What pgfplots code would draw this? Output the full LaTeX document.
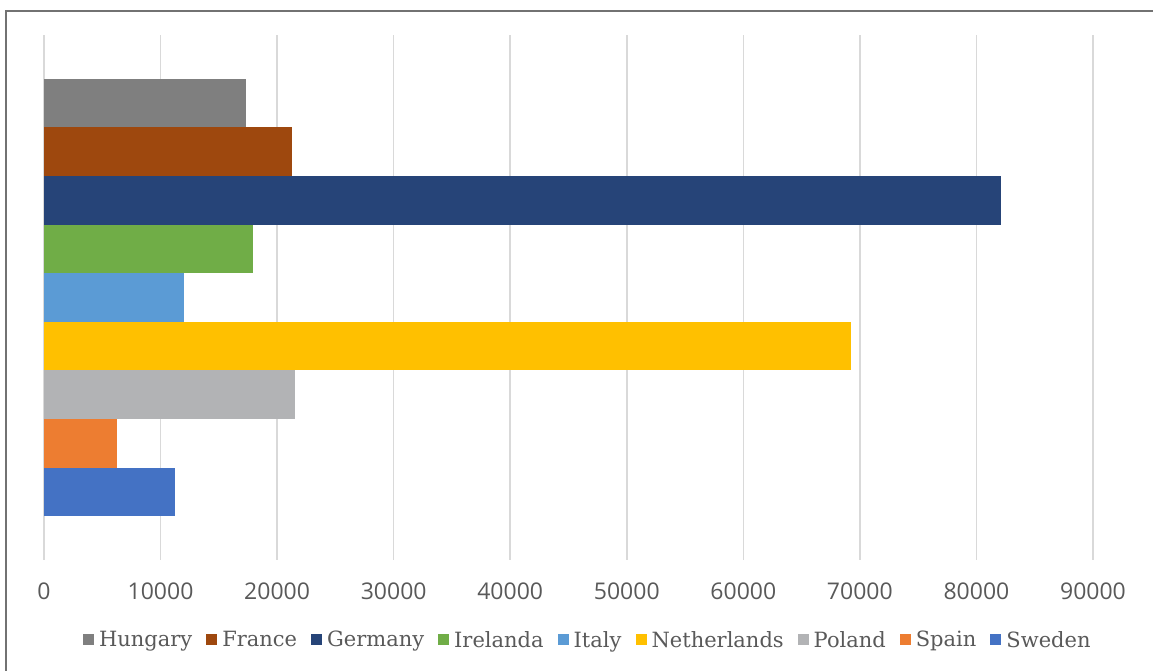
\documentclass[border=0pt]{standalone}
\usepackage{pgfplots}
\pgfplotsset{compat=1.18}
\usepackage{fontspec}
\setmainfont{DejaVu Serif}
\newfontfamily\tickfont{Open Sans}
\definecolor{cHun}{HTML}{7F7F7F}
\definecolor{cFra}{HTML}{9E480E}
\definecolor{cGer}{HTML}{264478}
\definecolor{cIre}{HTML}{70AD47}
\definecolor{cIta}{HTML}{5B9BD5}
\definecolor{cNet}{HTML}{FFC000}
\definecolor{cPol}{HTML}{B2B3B5}
\definecolor{cSpa}{HTML}{ED7D31}
\definecolor{cSwe}{HTML}{4472C4}
\definecolor{txt}{HTML}{595959}
\definecolor{grd}{HTML}{D9D9D9}
\begin{document}
\begin{tikzpicture}
\path[use as bounding box] (0,0) rectangle (1153bp,671bp);
\draw[color=cHun!90!black, line width=1.5bp] (6bp,0) -- (6bp,660bp) -- (1153bp,660bp);
\begin{axis}[
  at={(44bp,111bp)}, anchor=south west,
  scale only axis, width=1049bp, height=525bp,
  xbar, bar width=1, bar shift=0pt,
  xmin=0, xmax=90000,
  ymin=-0.4, ymax=10.4, y dir=reverse,
  axis line style={draw=none},
  ytick=\empty,
  xtick={0,10000,...,90000},
  scaled x ticks=false,
  xticklabel={\pgfmathprintnumber[fixed,1000 sep={}]{\tick}},
  xticklabel style={font=\tickfont\fontsize{23bp}{26bp}\selectfont, text=txt, yshift=-19bp},
  /pgf/number format/assume math mode=true,
  major tick length=0pt,
  xmajorgrids, grid style={grd, line width=1.6bp},
  legend columns=-1,
  legend style={at={(0.5175,-0.152)}, anchor=center, draw=none, fill=none,
    font=\fontsize{21bp}{24bp}\selectfont, text=txt,
    /tikz/every odd column/.append style={column sep=5bp},
    /tikz/every even column/.append style={column sep=14bp},
    nodes={inner sep=0pt}},
  legend image code/.code={\fill[#1] (0bp,-5.5bp) rectangle (11bp,5.5bp);},
  clip=false,
]
\addplot[fill=cHun, draw=none] coordinates {(17340,1)};
\addplot[fill=cFra, draw=none] coordinates {(21290,2)};
\addplot[fill=cGer, draw=none] coordinates {(82150,3)};
\addplot[fill=cIre, draw=none] coordinates {(17940,4)};
\addplot[fill=cIta, draw=none] coordinates {(12020,5)};
\addplot[fill=cNet, draw=none] coordinates {(69270,6)};
\addplot[fill=cPol, draw=none] coordinates {(21550,7)};
\addplot[fill=cSpa, draw=none] coordinates {(6270,8)};
\addplot[fill=cSwe, draw=none] coordinates {(11250,9)};
\legend{Hungary,France,Germany,Irelanda,Italy,Netherlands,Poland,Spain,Sweden}
\end{axis}
\end{tikzpicture}
\end{document}
